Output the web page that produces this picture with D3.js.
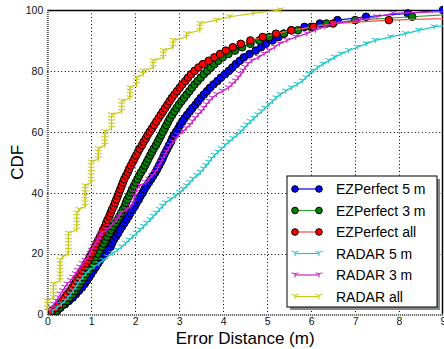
<!DOCTYPE html>
<html><head><meta charset="utf-8">
<script src="https://cdn.jsdelivr.net/npm/d3@7"></script>
<style>body{margin:0;background:#fff}svg{display:block;font-family:"Liberation Sans",Arial,sans-serif}</style>
</head><body><svg id="c" width="444" height="349"></svg>
<script>
// Error samples (m), sorted; CDF value = rank / N
const ezPerfect5 = [0.22,0.30,0.40,0.49,0.58,0.65,0.72,0.79,0.85,0.90,0.95,1.00,1.05,1.10,1.15,1.20,1.25,1.30,1.37,1.44,1.47,1.51,1.56,1.61,1.65,1.70,1.75,1.80,1.85,1.89,1.94,1.99,2.03,2.08,2.12,2.17,2.21,2.26,2.31,2.36,2.41,2.46,2.50,2.54,2.58,2.62,2.65,2.69,2.73,2.77,2.81,2.84,2.88,2.93,2.98,3.02,3.07,3.12,3.18,3.24,3.30,3.37,3.43,3.49,3.56,3.63,3.70,3.78,3.87,3.95,4.04,4.13,4.21,4.29,4.38,4.47,4.60,4.74,4.86,4.97,5.12,5.26,5.38,5.55,5.85,6.2,6.6,7.25,8.2,9.0];
const ezPerfect3 = [0.20,0.28,0.36,0.44,0.51,0.58,0.63,0.69,0.74,0.79,0.84,0.89,0.94,0.98,1.03,1.07,1.11,1.15,1.19,1.24,1.28,1.32,1.36,1.41,1.45,1.49,1.55,1.60,1.64,1.68,1.72,1.76,1.79,1.82,1.86,1.90,1.93,1.97,2.01,2.05,2.09,2.13,2.18,2.22,2.26,2.30,2.34,2.38,2.42,2.47,2.51,2.55,2.59,2.63,2.67,2.71,2.75,2.79,2.84,2.89,2.94,2.99,3.05,3.11,3.17,3.23,3.29,3.35,3.42,3.49,3.56,3.64,3.72,3.80,3.89,3.99,4.12,4.27,4.43,4.62,4.82,5.05,5.38,5.7,6.0,6.35,7.0,8.3,9.6,12];
const ezPerfectAll = [0.10,0.19,0.27,0.34,0.40,0.45,0.52,0.57,0.62,0.66,0.71,0.75,0.79,0.84,0.88,0.93,0.97,1.01,1.05,1.09,1.12,1.16,1.20,1.24,1.27,1.31,1.34,1.37,1.41,1.44,1.47,1.51,1.54,1.57,1.60,1.63,1.66,1.69,1.72,1.75,1.79,1.83,1.86,1.90,1.94,1.98,2.02,2.06,2.10,2.15,2.19,2.24,2.28,2.33,2.38,2.43,2.48,2.53,2.58,2.63,2.68,2.73,2.78,2.83,2.89,2.95,3.01,3.07,3.14,3.20,3.27,3.35,3.44,3.54,3.67,3.80,3.93,4.06,4.22,4.40,4.62,4.90,5.2,5.55,6.05,6.5,7.77,10.5,12,15];
const radar5 = [0.12,0.22,0.32,0.40,0.47,0.53,0.59,0.64,0.69,0.74,0.80,0.87,0.95,1.06,1.17,1.27,1.37,1.48,1.60,1.69,1.78,1.86,1.95,2.03,2.11,2.19,2.26,2.34,2.41,2.48,2.55,2.62,2.69,2.80,2.92,3.01,3.09,3.17,3.24,3.31,3.40,3.48,3.55,3.61,3.67,3.73,3.80,3.88,3.96,4.04,4.13,4.22,4.31,4.40,4.47,4.54,4.62,4.70,4.78,4.87,4.95,5.04,5.12,5.20,5.30,5.42,5.55,5.68,5.80,5.88,5.96,6.05,6.15,6.27,6.40,6.53,6.68,6.85,7.05,7.25,7.46,7.8,8.15,8.45,8.8,9.3,10,11,12,14];
const radar3 = [0.05,0.1,0.15,0.2,0.25,0.3,0.35,0.4,0.45,0.53,0.58,0.64,0.69,0.74,0.8,0.86,0.92,0.97,1.0,1.05,1.1,1.15,1.2,1.22,1.35,1.43,1.5,1.57,1.63,1.66,1.8,1.9,1.95,1.97,1.99,2.01,2.03,2.1,2.24,2.3,2.38,2.45,2.5,2.53,2.58,2.62,2.66,2.7,2.75,2.8,2.86,2.92,2.98,3.08,3.16,3.24,3.3,3.36,3.43,3.5,3.56,3.62,3.68,3.75,3.85,3.98,4.12,4.2,4.28,4.34,4.4,4.45,4.5,4.56,4.65,4.8,4.93,5.05,5.17,5.28,5.45,5.65,5.9,6.1,6.3,6.5,7.1,7.5,7.86,10];
const radarAll = [0,0,0,0,0.14,0.14,0.14,0.14,0.14,0.29,0.29,0.29,0.29,0.29,0.29,0.29,0.35,0.48,0.48,0.48,0.48,0.48,0.48,0.48,0.67,0.67,0.67,0.67,0.67,0.67,0.72,0.86,0.86,0.86,0.86,0.86,0.86,0.86,1.0,1.0,1.0,1.0,1.0,1.0,1.0,1.16,1.16,1.16,1.16,1.31,1.31,1.31,1.31,1.31,1.46,1.46,1.46,1.46,1.46,1.69,1.69,1.69,1.69,1.88,1.88,1.88,1.88,2.03,2.03,2.03,2.18,2.18,2.41,2.41,2.41,2.64,2.64,2.64,2.86,2.86,2.86,3.17,3.17,3.47,3.47,3.47,3.85,4.15,4.68,5.3];

const seriesNames = ["EZPerfect 5 m","EZPerfect 3 m","EZPerfect all","RADAR 5 m","RADAR 3 m","RADAR all"];
const xTicks = [0,1,2,3,4,5,6,7,8,9];
const yTicks = [0,20,40,60,80,100];

const series = [
  {name: seriesNames[0], data: ezPerfect5, color: "#0000ff", line: "#0000ff", type: "circle"},
  {name: seriesNames[1], data: ezPerfect3, color: "#007f00", line: "#2e9e2e", type: "circle"},
  {name: seriesNames[2], data: ezPerfectAll, color: "#ff0000", line: "#ff4a4a", type: "circle"},
  {name: seriesNames[3], data: radar5, color: "#1fc6c6", line: "#1fc6c6", type: "tri"},
  {name: seriesNames[4], data: radar3, color: "#cc1fcc", line: "#cc1fcc", type: "tri"},
  {name: seriesNames[5], data: radarAll, color: "#c8c81a", line: "#c8c81a", type: "tri"}
];

const svg = d3.select("#c");
const x = d3.scaleLinear().domain([0,9]).range([47.3,443]);
const y = d3.scaleLinear().domain([0,100]).range([314.5,10]);
const L = x(0), R = x(9), T = y(100), B = y(0);

// grid
const grid = svg.append("g").attr("stroke","#000").attr("stroke-width",1).attr("stroke-dasharray","1,2.5");
grid.selectAll("line.v").data(xTicks.slice(1,-1)).join("line")
  .attr("x1",d=>Math.round(x(d))+0.5).attr("x2",d=>Math.round(x(d))+0.5).attr("y1",T).attr("y2",B);
grid.selectAll("line.h").data(yTicks.slice(1,-1)).join("line")
  .attr("y1",d=>Math.round(y(d))+0.5).attr("y2",d=>Math.round(y(d))+0.5).attr("x1",L).attr("x2",R);

// frame top/right
svg.append("line").attr("x1",L).attr("x2",R).attr("y1",Math.round(T)+0.5).attr("y2",Math.round(T)+0.5).attr("stroke","#000").attr("stroke-width",1.5);
svg.append("line").attr("x1",Math.round(R)-0.5).attr("x2",Math.round(R)-0.5).attr("y1",T).attr("y2",B).attr("stroke","#000").attr("stroke-width",1.5);

// axes
const xAxis = svg.append("g").attr("transform",`translate(0,${B})`)
  .call(d3.axisBottom(x).tickValues(xTicks).tickSize(0).tickPadding(2).tickFormat(d3.format("d")));
const yAxis = svg.append("g").attr("transform",`translate(${L},0)`)
  .call(d3.axisLeft(y).tickValues(yTicks).tickSize(0).tickPadding(4).tickFormat(d3.format("d")));
[xAxis,yAxis].forEach(a=>{
  a.select(".domain").attr("stroke","#555").attr("stroke-width",2).attr("stroke-dasharray","1,1");
  a.selectAll("text").attr("font-size",10.5).attr("fill","#111").attr("font-family","'Liberation Sans',Arial,sans-serif");
});
xAxis.selectAll("text").attr("dy","0.8em");

// clip
svg.append("defs").append("clipPath").attr("id","clip").append("rect")
  .attr("x",L-5).attr("y",T-5).attr("width",R-L+5).attr("height",B-T+10);
const plot = svg.append("g").attr("clip-path","url(#clip)");

const triPath = "M-3.5,-2.2L0,-1.2L3.5,-2.2M0,-1.2L0,2.6";
const line = d3.line().x(d=>x(d[0])).y(d=>y(d[1]));

series.forEach(s=>{
  const n = s.data.length;
  const pts = s.data.map((v,i)=>[v,(i+1)/n*100]);
  const g = plot.append("g");
  g.append("path").attr("d",line(pts)).attr("fill","none").attr("stroke",s.line).attr("stroke-width",1.2);
  if (s.type==="circle") {
    g.selectAll("circle").data(pts).join("circle")
      .attr("cx",d=>x(d[0])).attr("cy",d=>y(d[1])).attr("r",3.8)
      .attr("fill",s.color).attr("stroke","#000").attr("stroke-width",1);
  } else {
    g.selectAll("path.m").data(pts).join("path").attr("class","m")
      .attr("transform",d=>`translate(${x(d[0])},${y(d[1])})`).attr("d",triPath)
      .attr("fill","none").attr("stroke",s.color).attr("stroke-width",1);
  }
});

// legend
const lg = svg.append("g");
const lx = 287, ly = 176, lw = 150, lh = 131;
lg.append("rect").attr("x",lx+3).attr("y",ly+3).attr("width",lw).attr("height",lh).attr("fill","#888");
lg.append("rect").attr("x",lx).attr("y",ly).attr("width",lw).attr("height",lh).attr("fill","#fff").attr("stroke","#000").attr("stroke-width",1);
series.forEach((s,i)=>{
  const yy = ly + 13 + i*21.5;
  const e = lg.append("g");
  e.append("line").attr("x1",295).attr("x2",319).attr("y1",yy).attr("y2",yy).attr("stroke",s.line).attr("stroke-width",1.2);
  [295,319].forEach(px=>{
    if (s.type==="circle") e.append("circle").attr("cx",px).attr("cy",yy).attr("r",3.3).attr("fill",s.color).attr("stroke","#000").attr("stroke-width",1);
    else e.append("path").attr("transform",`translate(${px},${yy})`).attr("d",triPath).attr("fill","none").attr("stroke",s.color);
  });
  e.append("text").attr("x",336).attr("y",yy).attr("dy","0.36em").attr("font-size",14).attr("fill","#000").text(s.name);
});

// labels
svg.append("text").attr("x",(L+R)/2).attr("y",343.5).attr("text-anchor","middle").attr("font-size",17).text("Error Distance (m)");
svg.append("text").attr("transform",`translate(23,${(T+B)/2}) rotate(-90)`).attr("text-anchor","middle").attr("font-size",17).text("CDF");
</script></body></html>
